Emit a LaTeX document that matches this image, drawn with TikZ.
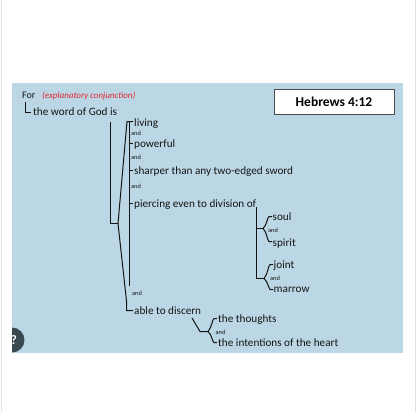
\documentclass[tikz,border=0pt]{standalone}
\usepackage{fontspec}
\setmainfont{Carlito}
\definecolor{bgblue}{RGB}{187,215,229}
\definecolor{ink}{RGB}{20,20,20}
\definecolor{redtxt}{RGB}{226,38,48}
\definecolor{iconc}{RGB}{58,72,82}
\definecolor{edge}{RGB}{225,225,225}
\begin{document}
\begin{tikzpicture}[x=1pt,y=-1pt,
  txt/.style={anchor=base west,inner sep=0pt,text=ink,font=\fontsize{11.2}{13}\selectfont},
  andtxt/.style={anchor=base west,inner sep=0pt,text=ink,font=\fontsize{6.3}{7}\selectfont},
  ln/.style={draw=ink,line width=1pt,line join=miter},
  refbox/.style={draw=black!70,fill=white,line width=0.8pt,minimum width=120pt,minimum height=25pt,inner sep=0pt,font=\bfseries\fontsize{13.5}{15}\selectfont}]
\useasboundingbox (0,0) rectangle (417,412);
\fill[white] (0,0) rectangle (417,412);
\draw[edge,line width=1pt] (1.5,0) -- (1.5,412);
\draw[edge,line width=1pt] (415.5,0) -- (415.5,412);
\fill[bgblue] (12,83) rectangle (403,353);
% help icon
\begin{scope}
\clip (12,320) rectangle (40,360);
\fill[iconc] (12,340) circle (12.5);
\node[text=white,font=\bfseries\fontsize{13}{14}\selectfont,inner sep=0] (help) at (14,340) {?};
\end{scope}
% reference box
\node[refbox] (ref) at (334,101.5) {Hebrews 4:12};
% header
\node[anchor=base west,inner sep=0,text=ink,font=\fontsize{10}{12}\selectfont] (for) at (22,98.5) {For};
\node[anchor=base west,inner sep=0,text=redtxt,font=\itshape\fontsize{9}{11}\selectfont] (expl) at (42,98.5) {(explanatory conjunction)};
\node[txt] (word) at (33,115.5) {the word of God is};
\draw[ln] (25.5,102) -- (25.5,112.5) -- (31,112.5);
% predicate structure
\coordinate (vtop) at (110.5,122);
\coordinate (vbot) at (110.5,223.5);
\coordinate (fork) at (118,223.5);
\coordinate (ctop) at (127,121.5);
\coordinate (cbot) at (129.5,286);
\draw[ln] (vtop) -- (vbot) -- (fork);
\draw[ln] (fork) -- (ctop) -- (133,121.5);
\draw[ln] (129.5,121.5) -- (cbot);
\draw[ln] (fork) -- (126.5,301) -- (126.5,310.5) -- (133,310.5);
\draw[ln] (129.5,143.5) -- (133,143.5);
\draw[ln] (129.5,170.5) -- (133,170.5);
\draw[ln] (129.5,203.5) -- (133,203.5);
\node[txt] (living) at (134,126) {living};
\node[andtxt] (and1) at (131,135.5) {and};
\node[txt] (powerful) at (134,147) {powerful};
\node[andtxt] (and2) at (131,159.5) {and};
\node[txt] (sharper) at (134,174) {sharper than any two-edged sword};
\node[andtxt] (and3) at (131,188.5) {and};
\node[txt] (piercing) at (134,207) {piercing even to division of};
\node[andtxt] (and4) at (132,295) {and};
\node[txt] (able) at (134,314.5) {able to discern};
% division of
\draw[ln] (256.5,207) -- (256.5,278.5) -- (264,278.5);
\draw[ln] (256.5,228.5) -- (263,228.5);
\draw[ln] (272,216.5) -- (269,216.5) .. controls (267,218) and (267,225) .. (263,228.5)
  .. controls (267,232) and (267,240) .. (269,241.5) -- (272,241.5);
\draw[ln] (273,264.5) -- (270,264.5) .. controls (268,266) and (268,274) .. (264,278.5)
  .. controls (268,282) and (268,287) .. (270,289.5) -- (273,289.5);
\node[txt] (soul) at (272.5,220) {soul};
\node[andtxt] (and5) at (268,232.5) {and};
\node[txt] (spirit) at (272.5,246) {spirit};
\node[txt] (joint) at (273.5,268) {joint};
\node[andtxt] (and6) at (270,280) {and};
\node[txt] (marrow) at (273.5,292.5) {marrow};
% able to discern
\draw[ln] (192,318) -- (200,331.5) -- (208,331.5);
\draw[ln] (217,318.5) -- (214,318.5) .. controls (212,320) and (212,327) .. (208,331.5)
  .. controls (212,335) and (212,341) .. (214,342.5) -- (217,342.5);
\node[txt] (thoughts) at (218,322) {the thoughts};
\node[andtxt] (and7) at (215.5,334.5) {and};
\node[txt] (intentions) at (218,346.5) {the intentions of the heart};
\end{tikzpicture}
\end{document}
